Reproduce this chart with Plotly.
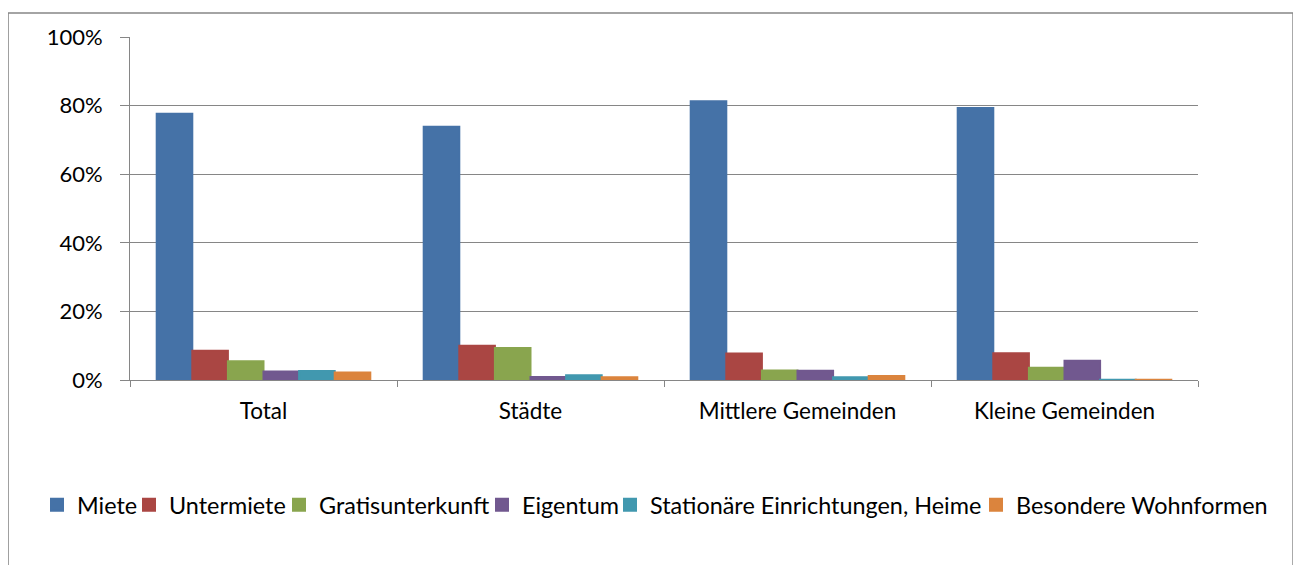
import plotly.graph_objects as go

categories = ["Total", "Städte", "Mittlere Gemeinden", "Kleine Gemeinden"]
series_names = ["Miete", "Untermiete", "Gratisunterkunft", "Eigentum",
                "Stationäre Einrichtungen, Heime", "Besondere Wohnformen"]
miete = [77.6, 73.8, 81.3, 79.3]
untermiete = [8.5, 10.0, 7.7, 7.8]
gratis = [5.5, 9.3, 2.8, 3.6]
eigentum = [2.5, 0.9, 2.7, 5.6]
stationaer = [2.6, 1.4, 0.8, 0.1]
besondere = [2.2, 0.8, 1.2, 0.1]
colors = ["#4572A7", "#AA4643", "#89A54E", "#71588F", "#4198AF", "#DB843D"]

values = [miete, untermiete, gratis, eigentum, stationaer, besondere]
y_ticks = [0, 20, 40, 60, 80, 100]
y_ticklabels = ["0%", "20%", "40%", "60%", "80%", "100%"]

# legend entry text start positions (pixels in the page)
legend_text_x = [77, 169, 319, 522, 650, 1016]

FONT = "Lato"
W, H = 1293, 557
fig = go.Figure()
legend_ids = ["legend"] + [f"legend{i}" for i in range(2, 7)]
for name, vals, col, lid in zip(series_names, values, colors, legend_ids):
    fig.add_trace(go.Bar(name=name, x=categories, y=vals, marker_color=col,
                         marker_line_width=2, marker_line_color=col, legend=lid))

legend_layout = {}
for lid, tx in zip(legend_ids, legend_text_x):
    legend_layout[lid] = dict(orientation="h", xref="container", yref="container",
                              x=(tx - 8 - 40) / W, xanchor="left", y=0.1077, yanchor="middle",
                              font=dict(family=FONT, size=23.4), itemwidth=30,
                              bgcolor="rgba(0,0,0,0)")

fig.update_layout(
    width=W, height=H,
    margin=dict(l=122, r=103, t=29, b=185),
    paper_bgcolor="white", plot_bgcolor="white",
    barmode="group", bargap=0.2, bargroupgap=0,
    font=dict(family=FONT, size=22, color="black"),
    showlegend=True,
    **legend_layout,
)
fig.update_xaxes(type="category", tickson="boundaries", ticks="outside", ticklen=6,
                 tickcolor="#868686", showline=True, linecolor="#868686", linewidth=1,
                 showgrid=False, ticklabelstandoff=11, tickfont=dict(size=22.5))
fig.update_yaxes(range=[0, 100], tickvals=y_ticks, ticktext=y_ticklabels,
                 ticks="outside", ticklen=9, tickcolor="#868686",
                 showline=True, linecolor="#868686", linewidth=1,
                 showgrid=True, gridcolor="#868686", gridwidth=1, zeroline=False,
                 ticklabelstandoff=13, tickfont=dict(size=22))

# outer chart border
fig.add_shape(type="rect", xref="paper", yref="paper", x0=-0.1142, x1=1.0890,
              y0=-0.56, y1=1.0700, line=dict(color="#868686", width=1.5),
              fillcolor="rgba(0,0,0,0)", layer="below")
fig.add_shape(type="line", xref="paper", yref="paper", x0=1.0936, x1=1.0936,
              y0=-0.56, y1=1.0670, line=dict(color="black", width=1.5))

fig.write_html("out.html")
